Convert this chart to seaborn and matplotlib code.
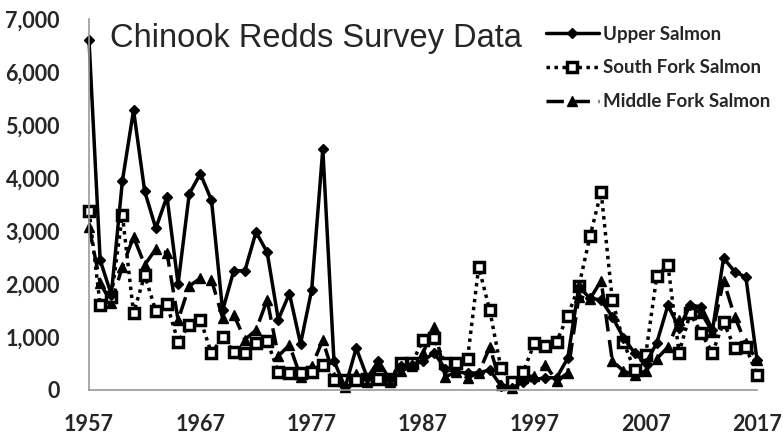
import seaborn as sns
import pandas as pd
import matplotlib.pyplot as plt
from matplotlib.ticker import FuncFormatter

# Chinook redds counts, one value per year 1957-2017
years = list(range(1957, 2018))

upper_salmon = [6600, 2450, 1800, 3950, 5280, 3750, 3050, 3650, 2000, 3700,
                4080, 3580, 1500, 2250, 2250, 2980, 2600, 1330, 1820, 870,
                1890, 4550, 550, 50, 790, 230, 550, 200, 450, 480,
                550, 700, 400, 340, 320, 320, 380, 80, 40, 150,
                200, 230, 230, 600, 1950, 1730, 1700, 1380, 990, 700,
                500, 890, 1600, 1170, 1600, 1570, 1130, 2490, 2230, 2130,
                570]

south_fork = [3380, 1600, 1750, 3300, 1450, 2170, 1490, 1620, 910, 1230,
              1330, 690, 1000, 720, 690, 880, 930, 340, 320, 330,
              340, 470, 180, 190, 190, 200, 200, 210, 500, 500,
              950, 980, 500, 500, 590, 2320, 1500, 410, 150, 340,
              880, 830, 910, 1400, 1960, 2900, 3740, 1700, 910, 380,
              660, 2150, 2360, 700, 1450, 1070, 700, 1280, 790, 810,
              280]

middle_fork = [3080, 2020, 1640, 2330, 2890, 2360, 2660, 2590, 1320, 1960,
               2110, 2080, 1360, 1420, 950, 1130, 1700, 640, 850, 250,
               450, 940, 250, 50, 300, 150, 450, 150, 350, 450,
               700, 1190, 250, 340, 230, 320, 810, 100, 40, 230,
               270, 470, 170, 320, 1760, 1720, 2060, 550, 360, 280,
               360, 590, 810, 1320, 1540, 1450, 1100, 2060, 1380, 880,
               570]

series_names = ['Upper Salmon', 'South Fork Salmon', 'Middle Fork Salmon']
x_tick_years = list(range(1957, 2018, 2))
x_tick_labels = [str(y) if (y - 1957) % 10 == 0 else '' for y in x_tick_years]
y_ticks = list(range(0, 7001, 1000))

df = pd.DataFrame({'Year': years,
                   'Upper Salmon': upper_salmon,
                   'South Fork Salmon': south_fork,
                   'Middle Fork Salmon': middle_fork})
long_df = df.melt(id_vars='Year', var_name='River', value_name='Redds')

sns.set_style('white')
plt.rcParams['font.family'] = ['Lato', 'DejaVu Sans']

fig = plt.figure(figsize=(7.83, 4.34), dpi=100)
ax = fig.add_axes([0.1137, 0.1014, 0.8531, 0.8548])

styles = {
    'Upper Salmon': dict(linestyle='-', marker='D', markersize=5.5,
                         markerfacecolor='black', markeredgewidth=1),
    'South Fork Salmon': dict(linestyle=(0, (1, 1.3)), marker='s', markersize=7,
                              markerfacecolor='white', markeredgewidth=2.5),
    'Middle Fork Salmon': dict(linestyle=(0, (5, 2.5)), marker='^', markersize=7.5,
                               markerfacecolor='black', markeredgewidth=1),
}

for name in series_names[::-1]:
    sub = long_df[long_df['River'] == name]
    sns.lineplot(data=sub, x='Year', y='Redds', ax=ax, color='black',
                 linewidth=2.5, markeredgecolor='black', label=name,
                 clip_on=False, **styles[name])

ax.set_xlim(1957, 2017)
ax.set_ylim(0, 7000)
ax.set_xticks(x_tick_years)
ax.set_xticklabels(x_tick_labels)
ax.set_yticks(y_ticks)
ax.yaxis.set_major_formatter(FuncFormatter(lambda v, p: f'{int(v):,}'))
ax.set_xlabel('')
ax.set_ylabel('')

for side in ['top', 'right']:
    ax.spines[side].set_visible(False)
for side in ['left', 'bottom']:
    ax.spines[side].set_color('#999999')
    ax.spines[side].set_linewidth(1.2)
ax.tick_params(axis='both', direction='out', length=7, width=1.2,
               color='#999999', labelsize=15.5)
ax.tick_params(axis='x', pad=10)
ax.tick_params(axis='y', pad=14)
for lbl in ax.get_xticklabels() + ax.get_yticklabels():
    lbl.set_fontweight('bold')

fig.text(0.1405, 0.912, 'Chinook Redds Survey Data', family='Liberation Sans',
         fontsize=23.5, va='center', ha='left')

handles, labels = ax.get_legend_handles_labels()
order = [labels.index(n) for n in series_names]
ax.legend([handles[i] for i in order], series_names,
          loc='upper left', bbox_to_anchor=(0.676, 0.98),
          bbox_transform=fig.transFigure, frameon=False,
          prop={'family': 'Lato', 'weight': 'bold', 'size': 13.5},
          handlelength=2.8, handletextpad=0.25, labelspacing=0.9)

fig.savefig('out.png', dpi=100)
